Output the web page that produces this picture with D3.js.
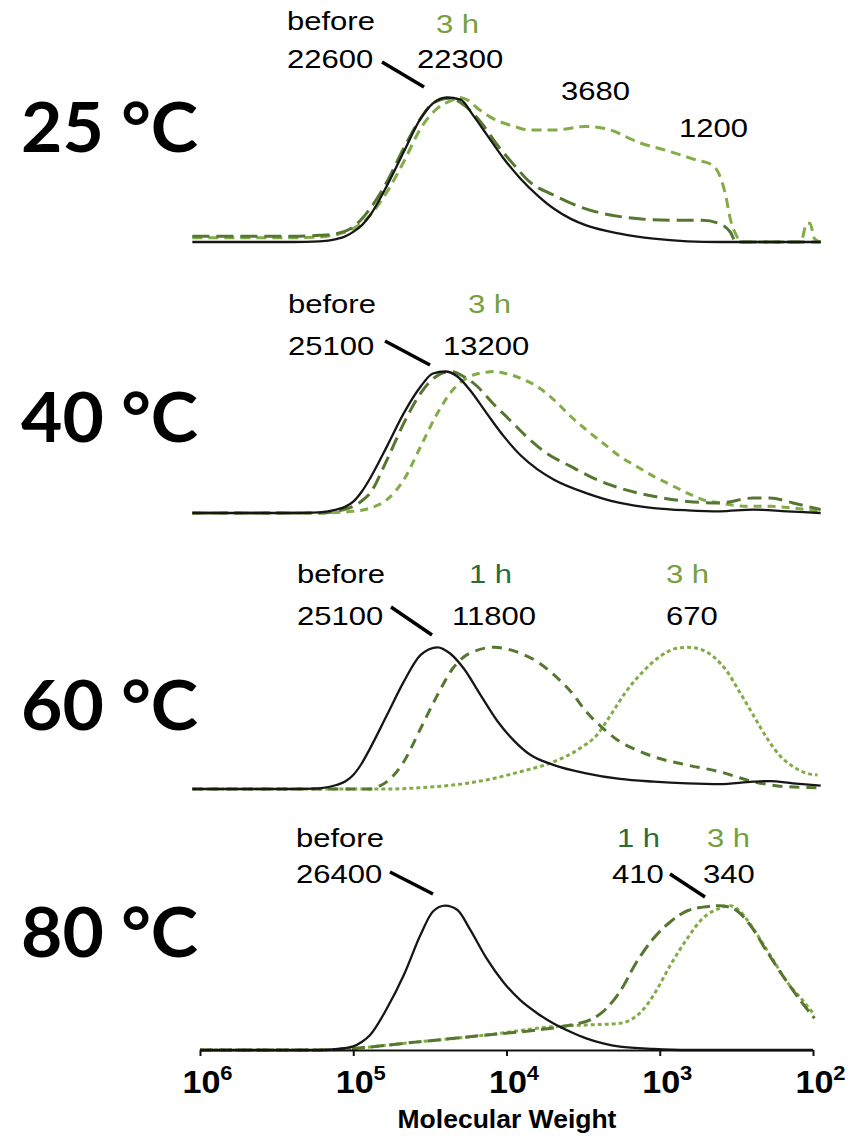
<!DOCTYPE html>
<html>
<head>
<meta charset="utf-8">
<script src="https://cdn.jsdelivr.net/npm/d3@7/dist/d3.min.js"></script>
<style>
  html, body { margin: 0; padding: 0; background: #fff; }
  svg { display: block; }
</style>
</head>
<body>
<script>
// GPC traces: [log10(molecular weight), normalised detector signal]
const temperatures = ["25 °C", "40 °C", "60 °C", "80 °C"];

const before25 = [[6.05,0],[5.4,0],[5.22,0.004],[5.11,0.02],[5.05,0.04],[5.0,0.07],[4.94,0.12],[4.89,0.185],[4.78,0.39],[4.67,0.625],[4.56,0.855],[4.48,0.96],[4.39,1.0],[4.30,0.985],[4.22,0.88],[4.13,0.745],[4.02,0.58],[3.91,0.44],[3.80,0.325],[3.69,0.23],[3.58,0.16],[3.48,0.115],[3.26,0.058],[3.04,0.023],[2.82,0.005],[2.61,0],[1.95,0]];
const oneHour25 = [[6.05,0.04],[5.4,0.04],[5.22,0.046],[5.11,0.058],[5.0,0.104],[4.89,0.231],[4.78,0.417],[4.67,0.65],[4.56,0.856],[4.48,0.96],[4.37,0.995],[4.28,0.949],[4.17,0.833],[4.06,0.671],[3.95,0.532],[3.85,0.417],[3.69,0.324],[3.52,0.243],[3.37,0.197],[3.15,0.162],[2.93,0.15],[2.72,0.15],[2.61,0.127],[2.54,0.069],[2.50,0],[1.95,0]];
const threeHour25 = [[6.05,0.03],[5.4,0.03],[5.22,0.035],[5.0,0.093],[4.89,0.185],[4.78,0.347],[4.67,0.556],[4.56,0.787],[4.45,0.926],[4.35,0.984],[4.31,1.0],[4.25,0.98],[4.19,0.926],[4.09,0.856],[3.95,0.80],[3.85,0.775],[3.69,0.775],[3.48,0.80],[3.32,0.775],[3.15,0.694],[2.93,0.625],[2.76,0.567],[2.66,0.535],[2.61,0.463],[2.57,0.324],[2.54,0.162],[2.50,0.046],[2.47,0],[2.08,0],[2.04,0.13],[2.02,0.13],[1.99,0.023],[1.95,0]];

const before40 = [[6.05,0],[5.4,0],[5.22,0.005],[5.11,0.024],[5.05,0.045],[5.0,0.08],[4.945,0.15],[4.89,0.245],[4.78,0.471],[4.67,0.706],[4.56,0.894],[4.48,0.986],[4.40,1.0],[4.32,0.965],[4.24,0.871],[4.13,0.706],[4.02,0.545],[3.91,0.41],[3.80,0.31],[3.69,0.235],[3.48,0.141],[3.26,0.071],[3.04,0.035],[2.82,0.019],[2.61,0.012],[2.39,0.024],[2.17,0.012],[1.95,0]];
const oneHour40 = [[6.05,0],[5.22,0],[5.1,0.015],[5.0,0.047],[4.945,0.085],[4.89,0.141],[4.78,0.376],[4.67,0.635],[4.56,0.847],[4.46,0.965],[4.37,1.0],[4.28,0.965],[4.19,0.894],[4.09,0.776],[3.98,0.659],[3.87,0.541],[3.74,0.424],[3.58,0.329],[3.41,0.235],[3.26,0.176],[3.04,0.118],[2.82,0.082],[2.61,0.071],[2.39,0.106],[2.28,0.106],[2.13,0.071],[1.95,0.024]];
const threeHour40 = [[6.05,0],[5.22,0],[5.0,0.012],[4.89,0.035],[4.78,0.094],[4.67,0.235],[4.56,0.471],[4.45,0.706],[4.35,0.871],[4.24,0.965],[4.13,0.995],[4.07,1.0],[4.02,0.99],[3.91,0.953],[3.80,0.894],[3.69,0.80],[3.58,0.682],[3.48,0.588],[3.37,0.494],[3.26,0.40],[3.15,0.329],[3.04,0.259],[2.93,0.20],[2.82,0.141],[2.72,0.094],[2.61,0.071],[2.43,0.047],[2.28,0.047],[2.13,0.035],[1.95,0.012]];

const before60 = [[6.05,0],[5.4,0],[5.22,0.005],[5.11,0.028],[5.05,0.055],[5.0,0.099],[4.945,0.18],[4.89,0.287],[4.78,0.522],[4.67,0.758],[4.56,0.946],[4.45,1.0],[4.37,0.958],[4.28,0.852],[4.17,0.664],[4.06,0.48],[3.95,0.34],[3.85,0.245],[3.69,0.169],[3.48,0.111],[3.26,0.071],[3.04,0.052],[2.82,0.04],[2.61,0.035],[2.39,0.052],[2.28,0.056],[2.13,0.04],[1.95,0.024]];
const oneHour60 = [[6.05,0],[4.89,0],[4.83,0.02],[4.78,0.052],[4.67,0.193],[4.56,0.428],[4.45,0.664],[4.35,0.852],[4.24,0.958],[4.08,1.0],[3.91,0.958],[3.80,0.899],[3.69,0.805],[3.58,0.687],[3.48,0.546],[3.37,0.428],[3.26,0.334],[3.15,0.275],[3.04,0.228],[2.82,0.169],[2.61,0.122],[2.39,0.052],[2.17,0.016],[1.95,0.009]];
const threeHour60 = [[6.05,0],[4.78,0],[4.56,0.009],[4.35,0.028],[4.13,0.064],[3.91,0.122],[3.69,0.193],[3.52,0.287],[3.41,0.381],[3.32,0.522],[3.22,0.687],[3.11,0.828],[3.0,0.934],[2.89,0.993],[2.82,1.0],[2.74,0.988],[2.65,0.934],[2.56,0.828],[2.48,0.687],[2.39,0.522],[2.30,0.358],[2.22,0.24],[2.13,0.158],[2.04,0.111],[1.97,0.099]];

const before80 = [[6.0,0],[5.22,0],[5.1,0.008],[5.0,0.025],[4.945,0.055],[4.89,0.104],[4.78,0.289],[4.67,0.52],[4.56,0.80],[4.48,0.96],[4.40,1.0],[4.32,0.97],[4.24,0.84],[4.13,0.635],[4.02,0.47],[3.91,0.345],[3.80,0.255],[3.69,0.182],[3.58,0.125],[3.48,0.081],[3.37,0.046],[3.26,0.023],[3.04,0.007],[2.82,0],[2.0,0]];
const oneHour80 = [[6.0,0],[5.22,0],[4.56,0.058],[4.13,0.104],[3.80,0.139],[3.58,0.173],[3.45,0.21],[3.37,0.266],[3.26,0.404],[3.15,0.612],[3.04,0.774],[2.93,0.889],[2.82,0.965],[2.72,0.99],[2.61,1.0],[2.52,0.98],[2.41,0.866],[2.30,0.681],[2.17,0.473],[2.06,0.312],[1.99,0.22]];
const threeHour80 = [[6.0,0],[5.22,0],[4.56,0.058],[4.13,0.104],[3.69,0.162],[3.48,0.173],[3.26,0.185],[3.18,0.215],[3.10,0.29],[3.04,0.381],[2.93,0.589],[2.82,0.774],[2.72,0.912],[2.61,0.982],[2.54,1.0],[2.48,0.965],[2.39,0.84],[2.28,0.658],[2.17,0.473],[2.06,0.335],[1.99,0.243]];

// Molecular-weight annotations per temperature
const beforeMW = ["22600", "25100", "25100", "26400"];
const oneHourMW = [null, null, "11800", "410"];
const threeHourMW = ["22300", "13200", "670", "340"];
const shoulderMW25 = ["3680", "1200"];

const tickValues = [1e6, 1e5, 1e4, 1e3, 1e2];
const tickExponents = ["6", "5", "4", "3", "2"];
const axisTitle = "Molecular Weight";

// ---- layout ----
const W = 863, H = 1138;
const svg = d3.select("body").append("svg").attr("width", W).attr("height", H);

const x = d3.scaleLog().domain([1e6, 1e2]).range([200, 813]);

const panels = [
  { base: 242, top: 97.5,
    series: [threeHour25, oneHour25, before25],
    dash: ["10,6", "17,7"],
    tempY: 152,
    before: { x: 287, y1: 30, y2: 68 },
    lead: [[382, 62], [424, 87]],
    one: null,
    three: { x: 417, hx: 436, y1: 33, y2: 68 } },
  { base: 513, top: 371.5,
    series: [threeHour40, oneHour40, before40],
    dash: ["8,6", "14,7"],
    tempY: 442,
    before: { x: 288, y1: 313, y2: 355 },
    lead: [[385, 341], [430, 365]],
    one: null,
    three: { x: 443, hx: 468, y1: 313, y2: 355 } },
  { base: 789, top: 647.3,
    series: [threeHour60, oneHour60, before60],
    dash: ["4,3", "10,7"],
    tempY: 730,
    before: { x: 297, y1: 583, y2: 625 },
    lead: [[391, 607], [432, 635]],
    one: { x: 452, hx: 469, y1: 583, y2: 625 },
    three: { x: 666, hx: 666, y1: 583, y2: 625 } },
  { base: 1050, top: 905.7,
    series: [threeHour80, oneHour80, before80],
    dash: ["4,3", "13,6"],
    tempY: 957,
    before: { x: 296, y1: 847, y2: 883 },
    lead: [[390, 872], [433, 894]],
    one: { x: 612, hx: 617, y1: 847, y2: 883 },
    three: { x: 703, hx: 707, y1: 847, y2: 883 },
    lead2: [[670, 874], [705, 897]] }
];

const colBlack = "#161616";
const colOne = "#56772f";
const colThree = "#83ab48";
const colOneText = "#2b6b34";
const colThreeText = "#76a040";
const SX = 1.17; // labels are set slightly wide

function label(g, txt, px, py, color, size, anchor) {
  return g.append("text")
    .attr("transform", `translate(${px},${py}) scale(${SX},1)`)
    .attr("text-anchor", anchor || "start")
    .attr("font-family", "'Liberation Sans', Arial, sans-serif")
    .attr("font-size", size || 26.5)
    .attr("fill", color)
    .text(txt);
}

panels.forEach((p, i) => {
  const g = svg.append("g").attr("class", "panel");
  const y = d3.scaleLinear().domain([0, 1]).range([p.base, p.top]);
  const line = d3.line()
    .x(d => x(Math.pow(10, d[0])))
    .y(d => y(d[1]))
    .curve(d3.curveMonotoneX);

  const styles = [
    { color: colThree, width: 3, dash: p.dash[0] },
    { color: colOne, width: 3, dash: p.dash[1] },
    { color: colBlack, width: 2.3, dash: null }
  ];
  p.series.forEach((s, k) => {
    g.append("path")
      .datum(s)
      .attr("d", line)
      .attr("fill", "none")
      .attr("stroke", styles[k].color)
      .attr("stroke-width", styles[k].width)
      .attr("stroke-dasharray", styles[k].dash)
      .attr("stroke-linejoin", "round");
  });

  // temperature label
  g.append("text")
    .attr("x", 21).attr("y", p.tempY)
    .attr("font-family", "Lato, 'Noto Sans', sans-serif")
    .attr("font-weight", 700)
    .attr("font-size", 68)
    .attr("textLength", 177)
    .attr("lengthAdjust", "spacingAndGlyphs")
    .attr("fill", "#000")
    .text(temperatures[i]);

  // annotations
  label(g, "before", p.before.x, p.before.y1, "#000");
  label(g, beforeMW[i], p.before.x, p.before.y2, "#000");
  if (p.one && oneHourMW[i]) {
    label(g, "1 h", p.one.hx, p.one.y1, colOneText);
    label(g, oneHourMW[i], p.one.x, p.one.y2, "#000");
  }
  if (p.three) {
    label(g, "3 h", p.three.hx, p.three.y1, colThreeText);
    label(g, threeHourMW[i], p.three.x, p.three.y2, "#000");
  }
  const leaders = [p.lead].concat(p.lead2 ? [p.lead2] : []);
  leaders.forEach(l => {
    g.append("line")
      .attr("x1", l[0][0]).attr("y1", l[0][1])
      .attr("x2", l[1][0]).attr("y2", l[1][1])
      .attr("stroke", "#000").attr("stroke-width", 3.5)
      .attr("stroke-linecap", "butt");
  });
  if (i === 0) {
    label(g, shoulderMW25[0], 561, 100, "#000");
    label(g, shoulderMW25[1], 679, 137, "#000");
  }
});

// ---- x axis (shared, bottom panel) ----
const axis = d3.axisBottom(x)
  .tickValues(tickValues)
  .tickSizeInner(6)
  .tickSizeOuter(0)
  .tickFormat(() => "");
const ax = svg.append("g")
  .attr("transform", `translate(0,${panels[3].base})`)
  .call(axis);
ax.select(".domain").attr("stroke", "#111").attr("stroke-width", 2);
ax.selectAll(".tick line").attr("stroke", "#111").attr("stroke-width", 2);

ax.selectAll(".tick").each(function(d, k) {
  const t = d3.select(this).append("text")
    .attr("transform", `translate(7,43) scale(1.1,1)`)
    .attr("text-anchor", "middle")
    .attr("fill", "#000")
    .attr("font-family", "'Liberation Sans', Arial, sans-serif")
    .attr("font-weight", "bold")
    .attr("font-size", 31)
    .attr("y", 0);
  t.append("tspan").text("10");
  t.append("tspan").attr("font-size", 20).attr("dy", -13).text(tickExponents[k]);
});

svg.append("text")
  .attr("x", 507).attr("y", 1128)
  .attr("text-anchor", "middle")
  .attr("font-family", "'Liberation Sans', Arial, sans-serif")
  .attr("font-weight", "bold")
  .attr("font-size", 26.5)
  .attr("fill", "#000")
  .text(axisTitle);
</script>
</body>
</html>
